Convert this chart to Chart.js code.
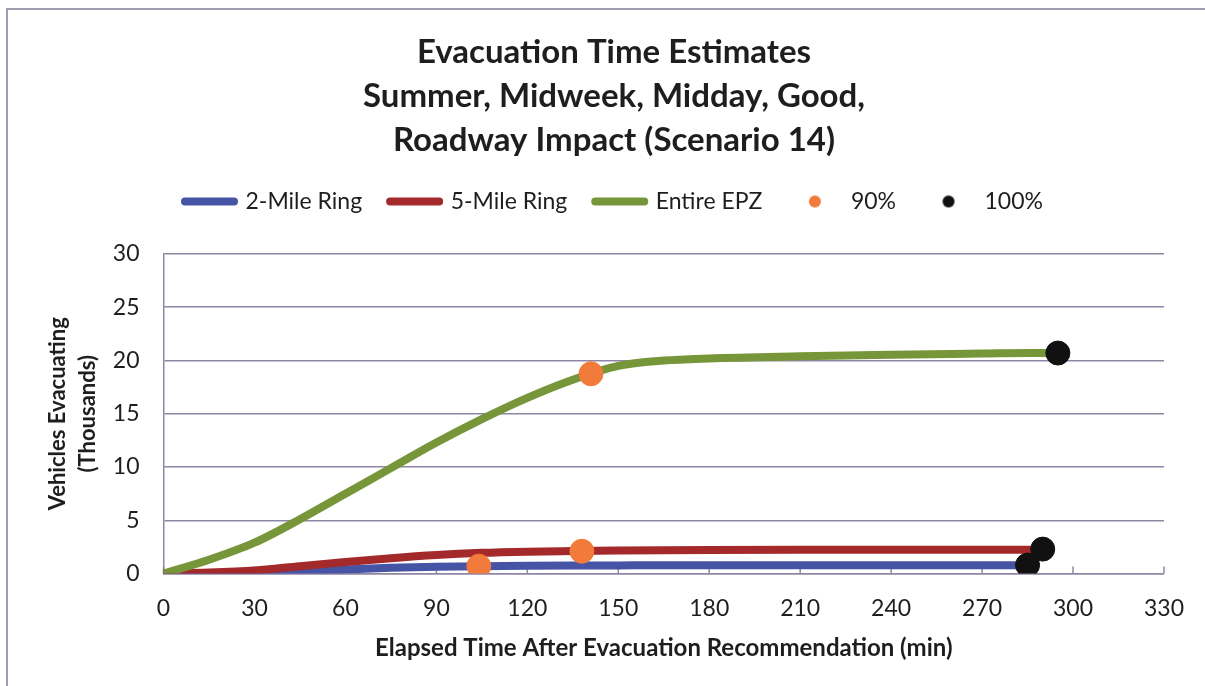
<!DOCTYPE html>
<html>
<head>
<meta charset="utf-8">
<title>Evacuation Time Estimates</title>
<script src="https://cdn.jsdelivr.net/npm/chart.js@4"></script>
<style>
  html, body { margin: 0; padding: 0; background: #fff; }
  #wrap { position: relative; width: 1205px; height: 686px; overflow: hidden; }
  #frame { position: absolute; left: 6px; top: 8px; width: 1300px; height: 800px;
           border-top: 2px solid #a39bb0; border-left: 2px solid #a39bb0; }
  #myChart { position: absolute; left: 0; top: 0; }
</style>
</head>
<body>
<div id="wrap">
  <div id="frame"></div>
  <canvas id="myChart" width="1205" height="686"></canvas>
</div>
<script>
// elapsed minutes after the recommendation
const minutes = [0, 15, 30, 45, 60, 75, 90, 105, 120, 135, 150, 165, 180, 210, 240, 270, 285, 290, 295];

// vehicles evacuating, thousands
const twoMile  = [0, 0, 0.02, 0.15, 0.38, 0.54, 0.64, 0.7, 0.74, 0.76, 0.77, 0.78, 0.78, 0.78, 0.78, 0.78, 0.78, null, null];
const fiveMile = [0, 0.1, 0.3, 0.7, 1.08, 1.45, 1.75, 1.95, 2.06, 2.12, 2.17, 2.2, 2.22, 2.23, 2.24, 2.25, 2.25, 2.25, null];
const entireEpz = [0, 1.3, 2.9, 5.1, 7.5, 9.9, 12.3, 14.5, 16.5, 18.2, 19.5, 20.0, 20.2, 20.4, 20.55, 20.65, 20.7, 20.7, 20.7];

// 90% and 100% evacuation times (min) and counts (2-mile, 5-mile, EPZ)
const ninetyTimes = [104, 138, 141];
const ninetyValues = [0.7, 2.1, 18.75];
const fullTimes = [285, 290, 295];
const fullValues = [0.8, 2.3, 20.7];

const xTicks = [0, 30, 60, 90, 120, 150, 180, 210, 240, 270, 300, 330];
const yTicks = [0, 5, 10, 15, 20, 25, 30];

const gridColor = "#8f86a6";
const textColor = "#1e1e1e";
const fontFamily = "Lato, 'Open Sans', sans-serif";

function toPoints(xs, ys) {
  return xs.map((x, i) => ({ x: x, y: ys[i] }));
}

// small round swatch for the marker-only series in the legend
function dotImage(color) {
  let c = document.createElement("canvas");
  c.width = 14; c.height = 14;
  let g = c.getContext("2d");
  g.fillStyle = color;
  g.beginPath();
  g.arc(7, 7, 6, 0, Math.PI * 2);
  g.fill();
  return c;
}

function lineSet(label, ys, color, order) {
  return {
    type: "line",
    label: label,
    data: toPoints(minutes, ys),
    borderColor: color,
    backgroundColor: color,
    borderWidth: 8,
    borderCapStyle: "round",
    pointRadius: 0,
    cubicInterpolationMode: "monotone",
    spanGaps: false,
    order: order
  };
}

function dotSet(label, xs, ys, color, order) {
  return {
    type: "scatter",
    label: label,
    data: toPoints(xs, ys),
    backgroundColor: color,
    borderColor: color,
    pointRadius: 12,
    pointHoverRadius: 12,
    showLine: false,
    order: order,
    legendDot: dotImage(color)
  };
}

// x axis tick marks sit inside the plot, pointing up
const innerTicks = {
  id: "innerTicks",
  beforeDatasetsDraw(chart) {
    const x = chart.scales.x;
    const c = chart.ctx;
    const bottom = chart.chartArea.bottom;
    c.save();
    c.strokeStyle = gridColor;
    c.lineWidth = 1.5;
    for (const t of x.ticks) {
      const px = x.getPixelForValue(t.value);
      c.beginPath();
      c.moveTo(px, bottom);
      c.lineTo(px, bottom - 7);
      c.stroke();
    }
    c.restore();
  }
};

// extra room between the legend row and the plot
const legendGap = {
  id: "legendGap",
  beforeInit(chart) {
    const fit = chart.legend.fit;
    chart.legend.fit = function () {
      fit.bind(chart.legend)();
      this.height += 31;
    };
  }
};

const ctx = document.getElementById("myChart").getContext("2d");

const myChart = new Chart(ctx, {
  data: {
    datasets: [
      lineSet("2-Mile Ring", twoMile, "#4654a6", 5),
      lineSet("5-Mile Ring", fiveMile, "#a3292b", 4),
      lineSet("Entire EPZ", entireEpz, "#77963a", 3),
      dotSet("90%", ninetyTimes, ninetyValues, "#f27a3a", 2),
      dotSet("100%", fullTimes, fullValues, "#111111", 1)
    ]
  },
  plugins: [innerTicks, legendGap],
  options: {
    responsive: false,
    devicePixelRatio: 1,
    animation: false,
    layout: {
      padding: { left: 43, right: 20, top: 10, bottom: 23 }
    },
    scales: {
      x: {
        type: "linear",
        min: 0,
        max: 330,
        afterBuildTicks: (axis) => { axis.ticks = xTicks.map(v => ({ value: v })); },
        ticks: {
          color: textColor,
          font: { family: fontFamily, size: 23 },
          padding: 21
        },
        grid: {
          drawOnChartArea: false,
          drawTicks: false
        },
        border: { color: gridColor, width: 1.5 },
        title: {
          display: true,
          text: "Elapsed Time After Evacuation Recommendation (min)",
          color: textColor,
          font: { family: fontFamily, size: 24, weight: "bold" },
          padding: { top: -9, bottom: 0 }
        }
      },
      y: {
        min: 0,
        max: 30,
        afterBuildTicks: (axis) => { axis.ticks = yTicks.map(v => ({ value: v })); },
        ticks: {
          color: textColor,
          font: { family: fontFamily, size: 23 },
          padding: 24
        },
        grid: {
          color: gridColor,
          lineWidth: 1.5,
          drawTicks: false
        },
        border: { color: gridColor, width: 1.5 },
        title: {
          display: true,
          text: ["Vehicles Evacuating", "(Thousands)"],
          color: textColor,
          font: { family: fontFamily, size: 22, weight: "bold", lineHeight: 1.36 },
          padding: { top: 0, bottom: -14 }
        }
      }
    },
    plugins: {
      title: {
        display: true,
        text: ["Evacuation Time Estimates", "Summer, Midweek, Midday, Good,", "Roadway Impact (Scenario 14)"],
        color: textColor,
        font: { family: fontFamily, size: 33, weight: "bold", lineHeight: 1.333 },
        padding: { top: 20, bottom: 0 }
      },
      legend: {
        position: "top",
        labels: {
          color: textColor,
          font: { family: fontFamily, size: 23 },
          usePointStyle: true,
          pointStyleWidth: 49,
          padding: 28,
          generateLabels: (chart) => {
            return chart.data.datasets.map((ds, i) => ({
              text: ds.label,
              datasetIndex: i,
              fillStyle: ds.backgroundColor,
              strokeStyle: ds.borderColor,
              lineWidth: ds.legendDot ? 0 : ds.borderWidth,
              lineCap: "round",
              pointStyle: ds.legendDot ? ds.legendDot : "line",
              fontColor: textColor,
              hidden: false
            }));
          }
        }
      },
      tooltip: { enabled: false }
    }
  }
});
</script>
</body>
</html>
